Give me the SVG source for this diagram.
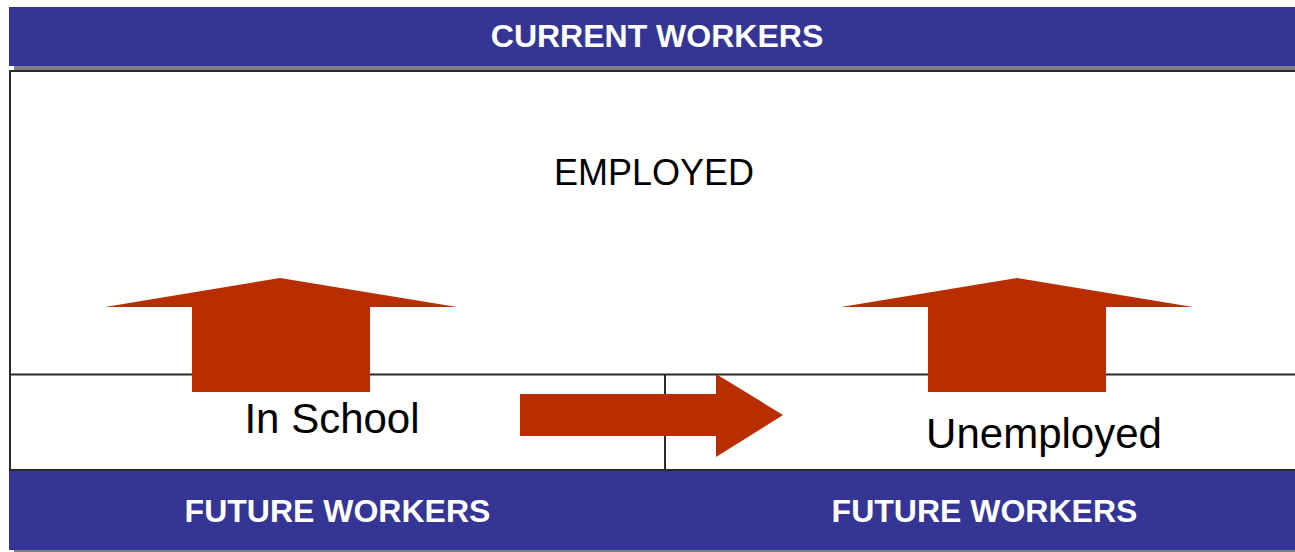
<svg xmlns="http://www.w3.org/2000/svg" width="1295" height="552" viewBox="0 0 1295 552">
<style>
.band{fill:#353596}
.shadow{fill:#808080}
.line{stroke:#2b2b2b;stroke-width:2;fill:none}
.arrow{fill:#b82e00}
.hdr{font-family:"Liberation Sans",Arial,sans-serif;font-weight:bold;fill:#ffffff;text-anchor:middle;font-size:32px}
.lbl{font-family:"Liberation Sans",Arial,sans-serif;fill:#000000;text-anchor:middle}
</style>
<rect width="1295" height="552" fill="#ffffff"/>
<g id="current-workers">
<rect class="shadow" x="14" y="66" width="1281" height="4"/>
<rect class="band" x="9" y="7" width="1286" height="59"/>
<text class="hdr" x="657" y="47">CURRENT WORKERS</text>
</g>
<g id="employed">
<path class="line" d="M1295,71 H10 V470 H1295"/>
<text class="lbl" x="654" y="185" font-size="36">EMPLOYED</text>
</g>
<g id="in-school">
<line class="line" x1="10" y1="374.5" x2="1295" y2="374.5"/>
<line class="line" x1="665" y1="375" x2="665" y2="470"/>
<text class="lbl" x="332" y="433" font-size="42">In School</text>
</g>
<g id="unemployed">
<text class="lbl" x="1044" y="448" font-size="42">Unemployed</text>
</g>
<g id="future-workers">
<rect class="shadow" x="14" y="549" width="1281" height="3"/>
<rect class="band" x="9" y="471" width="1286" height="79"/>
<text class="hdr" x="337.5" y="522">FUTURE WORKERS</text>
<text class="hdr" x="984.5" y="522">FUTURE WORKERS</text>
</g>
<g id="connectors">
<polygon class="arrow" points="280,278 457,307 370,307 370,392 192,392 192,307 105,307"/>
<polygon class="arrow" points="1017,278 1193,307 1106,307 1106,392 928,392 928,307 841,307"/>
<polygon class="arrow" points="520,394 716,394 716,374 783,415 716,457 716,436 520,436"/>
</g>
</svg>
